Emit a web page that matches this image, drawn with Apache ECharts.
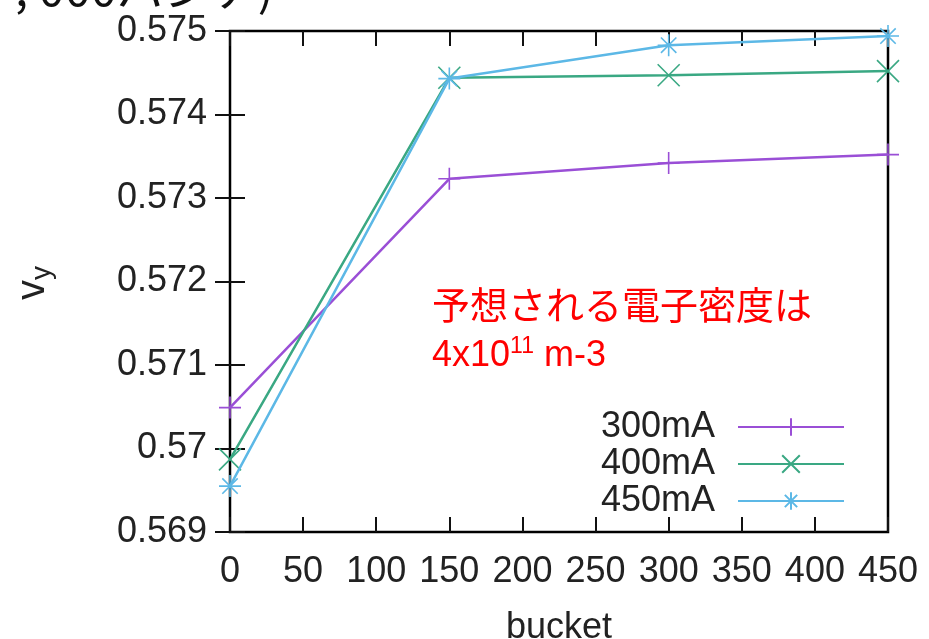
<!DOCTYPE html>
<html>
<head>
<meta charset="utf-8">
<script src="https://cdn.jsdelivr.net/npm/echarts@6/dist/echarts.min.js"></script>
<style>html,body{margin:0;padding:0;background:#fff}#c{width:929px;height:639px}</style>
</head>
<body>
<div id="c"></div>
<script>
const buckets = [0, 150, 300, 450];
const s300 = [0.57049, 0.57323, 0.57342, 0.57352];
const s400 = [0.56987, 0.57444, 0.57447, 0.57452];
const s450 = [0.56955, 0.57443, 0.57483, 0.57494];
const seriesNames = ['300mA', '400mA', '450mA'];
const xTicks = [0, 50, 100, 150, 200, 250, 300, 350, 400, 450];
const yTicks = [0.569, 0.57, 0.571, 0.572, 0.573, 0.574, 0.575];

const colors = ['#9a4fd6', '#3aa883', '#5cb8e6'];
const symbols = [
  'path://M0,-10L0,10M-10,0L10,0',
  'path://M-8,-8L8,8M-8,8L8,-8',
  'path://M0,-10L0,10M-10,0L10,0M-7,-7L7,7M-7,7L7,-7'
];
const font = 'Liberation Sans, Arial, sans-serif';

function pts(arr){ return buckets.map((b,i)=>[b, arr[i]]); }
const data = [s300, s400, s450];

const chart = echarts.init(document.getElementById('c'));
const tickStyle = {show:true, inside:true, length:15, lineStyle:{color:'#111', width:2}};
chart.setOption({
  animation:false,
  backgroundColor:'#fff',
  grid:{left:230, right:41, top:31, bottom:107, outerBoundsMode:'none', containLabel:false,
    show:true, borderColor:'#000', borderWidth:2.5, backgroundColor:'transparent'},
  xAxis:[{
    type:'value', min:xTicks[0], max:xTicks[xTicks.length-1], interval:50,
    name:'bucket', nameLocation:'middle', nameGap:78,
    nameTextStyle:{fontFamily:font, fontSize:36, color:'#222'},
    axisLine:{show:false}, splitLine:{show:false},
    axisTick:tickStyle,
    axisLabel:{fontFamily:font, fontSize:36, color:'#222', margin:22}
  },{
    type:'value', position:'top', min:0, max:450, interval:50,
    axisLine:{show:false}, splitLine:{show:false}, axisTick:tickStyle, axisLabel:{show:false}
  }],
  yAxis:[{
    type:'value', min:yTicks[0], max:yTicks[yTicks.length-1], interval:0.001,
    axisLine:{show:false}, splitLine:{show:false},
    axisTick:tickStyle,
    axisLabel:{fontFamily:font, fontSize:36, color:'#222', margin:23,
      formatter:v=>String(+v.toFixed(3))}
  },{
    type:'value', position:'right', min:0.569, max:0.575, interval:0.001,
    axisLine:{show:false}, splitLine:{show:false}, axisTick:tickStyle, axisLabel:{show:false}
  }],
  legend:{
    orient:'vertical', right:79, top:404, align:'right',
    itemWidth:106, itemHeight:22, itemGap:1,
    textStyle:{fontFamily:font, fontSize:36, lineHeight:36, color:'#222', padding:[0,18,0,0]},
    data:seriesNames
  },
  series: seriesNames.map((n,i)=>({
    name:n, type:'line', data:pts(data[i]),
    symbol:symbols[i], symbolSize:22,
    lineStyle:{color:colors[i], width:2.5},
    itemStyle:{color:colors[i], borderColor:colors[i], borderWidth:1.6},
    z:3+i
  })),
  graphic:[
    {type:'text', left:15, top:-35, style:{text:', 000バンチ)', fontFamily:'Noto Sans CJK JP, sans-serif', fontSize:47, fill:'#111'}},
    {type:'text', x:33, y:283, rotation:Math.PI/2, style:{
      text:'{v|v}{s|y}', align:'center', verticalAlign:'middle',
      rich:{v:{fontFamily:font, fontSize:40, fill:'#222'}, s:{fontFamily:font, fontSize:28, fill:'#222', padding:[18,0,0,0]}}
    }},
    {type:'text', left:432, top:286, style:{text:'予想される電子密度は', fontFamily:'Noto Sans CJK JP, sans-serif', fontSize:38, fill:'#ff0000'}},
    {type:'text', left:432, top:335, style:{
      text:'{a|4x10}{b|11}{a| m-3}',
      rich:{a:{fontFamily:font, fontSize:36, fill:'#ff0000', verticalAlign:'bottom'}, b:{fontFamily:font, fontSize:23, fill:'#ff0000', verticalAlign:'top', padding:[0,0,16,0]}}
    }}
  ]
});
</script>
</body>
</html>
